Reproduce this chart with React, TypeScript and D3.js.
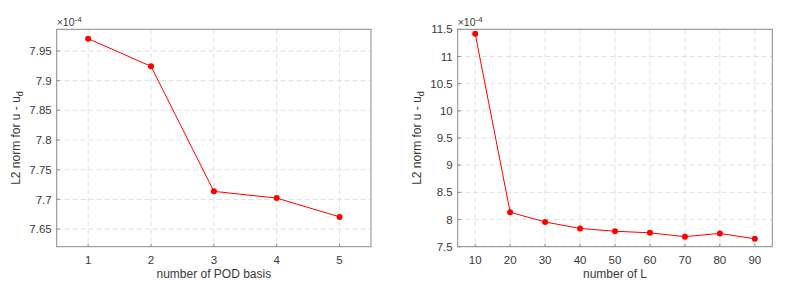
import * as d3 from 'd3';
import { useEffect, useRef } from 'react';

// left panel: error vs number of POD basis
const podBasis = [1, 2, 3, 4, 5];
const podError = [7.9707, 7.9242, 7.7135, 7.7022, 7.6705];
const podYTicks = [7.65, 7.7, 7.75, 7.8, 7.85, 7.9, 7.95];

// right panel: error vs number of L
const numL = [10, 20, 30, 40, 50, 60, 70, 80, 90];
const lError = [11.42, 8.134, 7.955, 7.835, 7.785, 7.755, 7.685, 7.745, 7.645];
const lYTicks = [7.5, 8, 8.5, 9, 9.5, 10, 10.5, 11, 11.5];

const width = 787;
const height = 288;
const font = 'Liberation Sans, Arial, Helvetica, sans-serif';

type Panel = {
  left: number;
  right: number;
  xs: number[];
  ys: number[];
  xDomain: [number, number];
  yDomain: [number, number];
  yTicks: number[];
  xLabel: string;
};

export default function App() {
  const svgRef = useRef<SVGSVGElement>(null);

  useEffect(() => {
    const svg = d3.select(svgRef.current);
    svg.selectAll('*').remove();
    svg.attr('width', width).attr('height', height).attr('viewBox', [0, 0, width, height].join(' '));
    svg.append('rect').attr('width', width).attr('height', height).attr('fill', '#fff');

    const top = 29.3;
    const bottom = 246.7;

    const panels: Panel[] = [
      {
        left: 56.7,
        right: 371,
        xs: podBasis,
        ys: podError,
        xDomain: [0.5, 5.5],
        yDomain: [7.6203, 7.9865],
        yTicks: podYTicks,
        xLabel: 'number of POD basis'
      },
      {
        left: 457.7,
        right: 772.3,
        xs: numL,
        ys: lError,
        xDomain: [5, 95],
        yDomain: [7.5, 11.5],
        yTicks: lYTicks,
        xLabel: 'number of L'
      }
    ];

    panels.forEach((p) => {
      const x = d3.scaleLinear().domain(p.xDomain).range([p.left, p.right]);
      const y = d3.scaleLinear().domain(p.yDomain).range([bottom, top]);
      const g = svg.append('g');

      // dashed grid
      g.selectAll('.gx')
        .data(p.xs)
        .join('line')
        .attr('x1', (d) => x(d))
        .attr('x2', (d) => x(d))
        .attr('y1', top)
        .attr('y2', bottom)
        .attr('stroke', '#e0e0e0')
        .attr('stroke-dasharray', '5,3');
      g.selectAll('.gy')
        .data(p.yTicks)
        .join('line')
        .attr('x1', p.left)
        .attr('x2', p.right)
        .attr('y1', (d) => y(d))
        .attr('y2', (d) => y(d))
        .attr('stroke', '#e0e0e0')
        .attr('stroke-dasharray', '5,3');

      // box
      g.append('rect')
        .attr('x', p.left)
        .attr('y', top)
        .attr('width', p.right - p.left)
        .attr('height', bottom - top)
        .attr('fill', 'none')
        .attr('stroke', '#8a8a8a')
        .attr('stroke-width', 1);

      // inward ticks
      g.selectAll('.tx')
        .data(p.xs)
        .join('line')
        .attr('x1', (d) => x(d))
        .attr('x2', (d) => x(d))
        .attr('y1', bottom)
        .attr('y2', bottom - 3)
        .attr('stroke', '#8a8a8a');
      g.selectAll('.ty')
        .data(p.yTicks)
        .join('line')
        .attr('x1', p.left)
        .attr('x2', p.left + 3)
        .attr('y1', (d) => y(d))
        .attr('y2', (d) => y(d))
        .attr('stroke', '#8a8a8a');

      // tick labels
      g.selectAll('.lx')
        .data(p.xs)
        .join('text')
        .attr('x', (d) => x(d))
        .attr('y', 263.5)
        .attr('text-anchor', 'middle')
        .attr('font-family', font)
        .attr('font-size', 11.5)
        .attr('fill', '#3a3a3a')
        .text((d) => String(d));
      g.selectAll('.ly')
        .data(p.yTicks)
        .join('text')
        .attr('x', p.left - 5)
        .attr('y', (d) => y(d))
        .attr('dy', '0.36em')
        .attr('text-anchor', 'end')
        .attr('font-family', font)
        .attr('font-size', 11.5)
        .attr('fill', '#3a3a3a')
        .text((d) => String(d));

      // exponent
      const ex = g.append('text')
        .attr('x', p.left)
        .attr('y', 26)
        .attr('font-family', font)
        .attr('font-size', 10.5)
        .attr('fill', '#3a3a3a');
      ex.append('tspan').text('×10');
      ex.append('tspan').attr('dy', -4).attr('font-size', 8).text('-4');

      // axis labels
      g.append('text')
        .attr('x', (p.left + p.right) / 2)
        .attr('y', 278)
        .attr('text-anchor', 'middle')
        .attr('font-family', font)
        .attr('font-size', 12)
        .attr('fill', '#3a3a3a')
        .text(p.xLabel);
      const yl = g.append('text')
        .attr('transform', `translate(${p.left - 37},${(top + bottom) / 2}) rotate(-90)`)
        .attr('text-anchor', 'middle')
        .attr('font-family', font)
        .attr('font-size', 12)
        .attr('fill', '#3a3a3a');
      yl.append('tspan').text('L2 norm for u - u');
      yl.append('tspan').attr('dy', 3).attr('font-size', 9).text('d');

      // data line and markers
      const pts = p.xs.map((v, i) => [v, p.ys[i]] as [number, number]);
      g.append('path')
        .datum(pts)
        .attr('fill', 'none')
        .attr('stroke', '#ff0000')
        .attr('stroke-width', 1)
        .attr('d', d3.line<[number, number]>().x((d) => x(d[0])).y((d) => y(d[1])));
      g.selectAll('.pt')
        .data(pts)
        .join('circle')
        .attr('cx', (d) => x(d[0]))
        .attr('cy', (d) => y(d[1]))
        .attr('r', 3)
        .attr('fill', '#ff0000');
    });
  });

  return (
    <div style={{ position: 'absolute', left: 0, top: 0, width, height, background: '#fff' }}>
      <svg ref={svgRef}></svg>
    </div>
  );
}
